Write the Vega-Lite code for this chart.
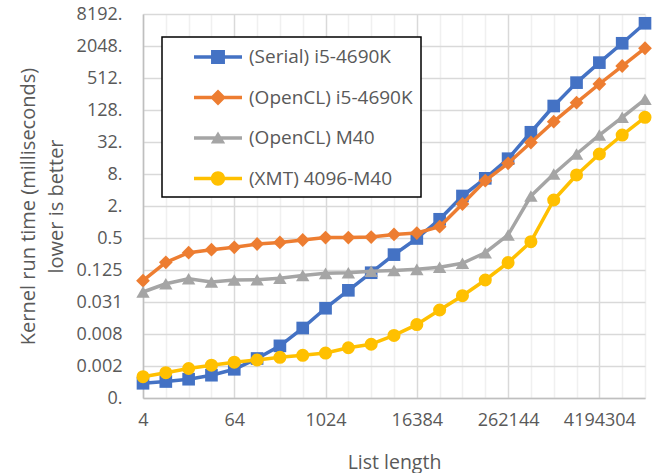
{
  "$schema": "https://vega.github.io/schema/vega-lite/v6.json",
  "width": 502,
  "height": 384,
  "autosize": "none",
  "padding": {"left": 143, "top": 14, "right": 9, "bottom": 75},
  "background": "white",
  "config": {"view": {"stroke": null}, "font": "Open Sans"},
  "data": {"values": [
    {"length": 4, "series": "(Serial) i5-4690K", "time": 0.000924},
    {"length": 8, "series": "(Serial) i5-4690K", "time": 0.000997},
    {"length": 16, "series": "(Serial) i5-4690K", "time": 0.001102},
    {"length": 32, "series": "(Serial) i5-4690K", "time": 0.001311},
    {"length": 64, "series": "(Serial) i5-4690K", "time": 0.001693},
    {"length": 128, "series": "(Serial) i5-4690K", "time": 0.002705},
    {"length": 256, "series": "(Serial) i5-4690K", "time": 0.004676},
    {"length": 512, "series": "(Serial) i5-4690K", "time": 0.01013},
    {"length": 1024, "series": "(Serial) i5-4690K", "time": 0.02385},
    {"length": 2048, "series": "(Serial) i5-4690K", "time": 0.05183},
    {"length": 4096, "series": "(Serial) i5-4690K", "time": 0.1111},
    {"length": 8192, "series": "(Serial) i5-4690K", "time": 0.2432},
    {"length": 16384, "series": "(Serial) i5-4690K", "time": 0.4897},
    {"length": 32768, "series": "(Serial) i5-4690K", "time": 1.125},
    {"length": 65536, "series": "(Serial) i5-4690K", "time": 3.084},
    {"length": 131072, "series": "(Serial) i5-4690K", "time": 6.63},
    {"length": 262144, "series": "(Serial) i5-4690K", "time": 15.52},
    {"length": 524288, "series": "(Serial) i5-4690K", "time": 48.8},
    {"length": 1048576, "series": "(Serial) i5-4690K", "time": 152.2},
    {"length": 2097152, "series": "(Serial) i5-4690K", "time": 418.8},
    {"length": 4194304, "series": "(Serial) i5-4690K", "time": 996},
    {"length": 8388608, "series": "(Serial) i5-4690K", "time": 2304},
    {"length": 16777216, "series": "(Serial) i5-4690K", "time": 5480},
    {"length": 4, "series": "(OpenCL) i5-4690K", "time": 0.0786},
    {"length": 8, "series": "(OpenCL) i5-4690K", "time": 0.1744},
    {"length": 16, "series": "(OpenCL) i5-4690K", "time": 0.2642},
    {"length": 32, "series": "(OpenCL) i5-4690K", "time": 0.3014},
    {"length": 64, "series": "(OpenCL) i5-4690K", "time": 0.3345},
    {"length": 128, "series": "(OpenCL) i5-4690K", "time": 0.3855},
    {"length": 256, "series": "(OpenCL) i5-4690K", "time": 0.4118},
    {"length": 512, "series": "(OpenCL) i5-4690K", "time": 0.4585},
    {"length": 1024, "series": "(OpenCL) i5-4690K", "time": 0.5105},
    {"length": 2048, "series": "(OpenCL) i5-4690K", "time": 0.51},
    {"length": 4096, "series": "(OpenCL) i5-4690K", "time": 0.5213},
    {"length": 8192, "series": "(OpenCL) i5-4690K", "time": 0.5823},
    {"length": 16384, "series": "(OpenCL) i5-4690K", "time": 0.6198},
    {"length": 32768, "series": "(OpenCL) i5-4690K", "time": 0.818},
    {"length": 65536, "series": "(OpenCL) i5-4690K", "time": 2.181},
    {"length": 131072, "series": "(OpenCL) i5-4690K", "time": 5.98},
    {"length": 262144, "series": "(OpenCL) i5-4690K", "time": 12.73},
    {"length": 524288, "series": "(OpenCL) i5-4690K", "time": 31.3},
    {"length": 1048576, "series": "(OpenCL) i5-4690K", "time": 77.2},
    {"length": 2097152, "series": "(OpenCL) i5-4690K", "time": 176},
    {"length": 4194304, "series": "(OpenCL) i5-4690K", "time": 395},
    {"length": 8388608, "series": "(OpenCL) i5-4690K", "time": 861},
    {"length": 16777216, "series": "(OpenCL) i5-4690K", "time": 1859},
    {"length": 4, "series": "(OpenCL) M40", "time": 0.0482},
    {"length": 8, "series": "(OpenCL) M40", "time": 0.0689},
    {"length": 16, "series": "(OpenCL) M40", "time": 0.0854},
    {"length": 32, "series": "(OpenCL) M40", "time": 0.0743},
    {"length": 64, "series": "(OpenCL) M40", "time": 0.0811},
    {"length": 128, "series": "(OpenCL) M40", "time": 0.082},
    {"length": 256, "series": "(OpenCL) M40", "time": 0.0872},
    {"length": 512, "series": "(OpenCL) M40", "time": 0.0988},
    {"length": 1024, "series": "(OpenCL) M40", "time": 0.1081},
    {"length": 2048, "series": "(OpenCL) M40", "time": 0.111},
    {"length": 4096, "series": "(OpenCL) M40", "time": 0.1187},
    {"length": 8192, "series": "(OpenCL) M40", "time": 0.1224},
    {"length": 16384, "series": "(OpenCL) M40", "time": 0.1285},
    {"length": 32768, "series": "(OpenCL) M40", "time": 0.1406},
    {"length": 65536, "series": "(OpenCL) M40", "time": 0.1672},
    {"length": 131072, "series": "(OpenCL) M40", "time": 0.2642},
    {"length": 262144, "series": "(OpenCL) M40", "time": 0.57},
    {"length": 524288, "series": "(OpenCL) M40", "time": 3.084},
    {"length": 1048576, "series": "(OpenCL) M40", "time": 8},
    {"length": 2097152, "series": "(OpenCL) M40", "time": 19.03},
    {"length": 4194304, "series": "(OpenCL) M40", "time": 43.3},
    {"length": 8388608, "series": "(OpenCL) M40", "time": 93.3},
    {"length": 16777216, "series": "(OpenCL) M40", "time": 203.7},
    {"length": 4, "series": "(XMT) 4096-M40", "time": 0.001228},
    {"length": 8, "series": "(XMT) 4096-M40", "time": 0.00146},
    {"length": 16, "series": "(XMT) 4096-M40", "time": 0.001753},
    {"length": 32, "series": "(XMT) 4096-M40", "time": 0.002022},
    {"length": 64, "series": "(XMT) 4096-M40", "time": 0.002307},
    {"length": 128, "series": "(XMT) 4096-M40", "time": 0.002533},
    {"length": 256, "series": "(XMT) 4096-M40", "time": 0.002848},
    {"length": 512, "series": "(XMT) 4096-M40", "time": 0.003108},
    {"length": 1024, "series": "(XMT) 4096-M40", "time": 0.003424},
    {"length": 2048, "series": "(XMT) 4096-M40", "time": 0.004304},
    {"length": 4096, "series": "(XMT) 4096-M40", "time": 0.005013},
    {"length": 8192, "series": "(XMT) 4096-M40", "time": 0.00734},
    {"length": 16384, "series": "(XMT) 4096-M40", "time": 0.01176},
    {"length": 32768, "series": "(XMT) 4096-M40", "time": 0.0221},
    {"length": 65536, "series": "(XMT) 4096-M40", "time": 0.04106},
    {"length": 131072, "series": "(XMT) 4096-M40", "time": 0.0811},
    {"length": 262144, "series": "(XMT) 4096-M40", "time": 0.1719},
    {"length": 524288, "series": "(XMT) 4096-M40", "time": 0.4264},
    {"length": 1048576, "series": "(XMT) 4096-M40", "time": 2.594},
    {"length": 2097152, "series": "(XMT) 4096-M40", "time": 7.67},
    {"length": 4194304, "series": "(XMT) 4096-M40", "time": 19.03},
    {"length": 8388608, "series": "(XMT) 4096-M40", "time": 43.3},
    {"length": 16777216, "series": "(XMT) 4096-M40", "time": 93.3}
  ]},
  "encoding": {
    "x": {
      "field": "length", "type": "quantitative",
      "scale": {"type": "log", "base": 2, "domain": [4, 16777216], "nice": false},
      "axis": {
        "values": [4, 8, 16, 32, 64, 128, 256, 512, 1024, 2048, 4096, 8192, 16384, 32768, 65536, 131072, 262144, 524288, 1048576, 2097152, 4194304, 8388608, 16777216],
        "format": "d",
        "labelExpr": "indexof([4, 64, 1024, 16384, 262144, 4194304], datum.value) >= 0 ? datum.label : ''",
        "labelOverlap": false, "labelFlush": false, "labelBound": false,
        "ticks": false, "tickSize": 0,
        "labelPadding": 13, "labelFontSize": 18, "labelColor": "#595959", "labelFont": "Open Sans",
        "title": "List length", "titleFontSize": 19.5, "titleFontWeight": "normal", "titleColor": "#595959", "titleFont": "Open Sans", "titlePadding": 24,
        "grid": true,
        "gridColor": {"condition": {"test": "indexof([4, 64, 1024, 16384, 262144, 4194304], datum.value) >= 0", "value": "#d9d9d9"}, "value": "#f0f0f0"},
        "gridWidth": 1.5,
        "domainColor": "#bfbfbf", "domainWidth": 1.5
      }
    },
    "y": {
      "field": "time", "type": "quantitative",
      "scale": {"type": "log", "base": 2, "domain": [0.00048828125, 8192], "nice": false},
      "axis": {
        "values": [0.00048828125, 0.001953125, 0.0078125, 0.03125, 0.125, 0.5, 2, 8, 32, 128, 512, 2048, 8192],
        "labelExpr": "replace(format(datum.value, '.3f'), regexp('0+$'), '')",
        "labelOverlap": false, "labelFlush": false,
        "ticks": false, "tickSize": 0,
        "labelPadding": 21, "labelFontSize": 18, "labelColor": "#595959", "labelFont": "Open Sans",
        "title": ["Kernel run time (milliseconds)", "lower is better"],
        "titleFontSize": 20, "titleFontWeight": "normal", "titleColor": "#595959", "titleFont": "Open Sans", "titlePadding": 10, "titleLineHeight": 28,
        "grid": true, "gridColor": "#d9d9d9", "gridWidth": 1.5,
        "domainColor": "#bfbfbf", "domainWidth": 1.5
      }
    },
    "color": {
      "field": "series", "type": "nominal",
      "scale": {"domain": ["(Serial) i5-4690K", "(OpenCL) i5-4690K", "(OpenCL) M40", "(XMT) 4096-M40"], "range": ["#4472C4", "#ED7D31", "#A5A5A5", "#FFC000"]},
      "legend": {
        "orient": "none", "legendX": 19, "legendY": 23, "title": null,
        "padding": 8, "fillColor": "white", "strokeColor": "black",
        "symbolSize": 576, "labelOffset": 55, "rowPadding": 18.5, "labelLimit": 400,
        "labelFontSize": 19, "labelColor": "#595959", "labelFont": "Open Sans",
        "labelExpr": "datum.label + '\u00a0\u00a0\u00a0\u00a0\u00a0'",
        "encode": {
          "legend": {"update": {"strokeWidth": {"value": 1.5}}},
          "symbols": {"update": {
            "shape": {"signal": "datum.value === '(Serial) i5-4690K' ? 'M1,-0.14H5V0.14H1Z M2.42,-0.58H3.58V0.58H2.42Z' : datum.value === '(OpenCL) i5-4690K' ? 'M1,-0.14H5V0.14H1Z M3,-0.66L3.66,0L3,0.66L2.34,0Z' : datum.value === '(OpenCL) M40' ? 'M1,-0.14H5V0.14H1Z M3,-0.54L3.6,0.45L2.4,0.45Z' : 'M1,-0.14H5V0.14H1Z M2.4,0A0.6,0.6 0 1,1 3.6,0A0.6,0.6 0 1,1 2.4,0Z'"},
            "fill": {"scale": "color", "field": "value"},
            "stroke": {"value": "transparent"},
            "strokeWidth": {"value": 0},
            "opacity": {"value": 1}
          }}
        }
      }
    }
  },
  "layer": [
    {"transform": [{"filter": "datum.series === '(Serial) i5-4690K'"}], "mark": {"type": "line", "strokeWidth": 3.5, "strokeJoin": "round", "strokeCap": "round"}},
    {"transform": [{"filter": "datum.series === '(Serial) i5-4690K'"}], "mark": {"type": "point", "filled": true, "size": 160, "opacity": 1, "shape": "square"}},
    {"transform": [{"filter": "datum.series === '(OpenCL) i5-4690K'"}], "mark": {"type": "line", "strokeWidth": 3.5, "strokeJoin": "round", "strokeCap": "round"}},
    {"transform": [{"filter": "datum.series === '(OpenCL) i5-4690K'"}], "mark": {"type": "point", "filled": true, "size": 190, "opacity": 1, "shape": "diamond"}},
    {"transform": [{"filter": "datum.series === '(OpenCL) M40'"}], "mark": {"type": "line", "strokeWidth": 3.5, "strokeJoin": "round", "strokeCap": "round"}},
    {"transform": [{"filter": "datum.series === '(OpenCL) M40'"}], "mark": {"type": "point", "filled": true, "size": 180, "opacity": 1, "shape": "triangle-up"}},
    {"transform": [{"filter": "datum.series === '(XMT) 4096-M40'"}], "mark": {"type": "line", "strokeWidth": 3.5, "strokeJoin": "round", "strokeCap": "round"}},
    {"transform": [{"filter": "datum.series === '(XMT) 4096-M40'"}], "mark": {"type": "point", "filled": true, "size": 170, "opacity": 1, "shape": "circle"}}
  ]
}
